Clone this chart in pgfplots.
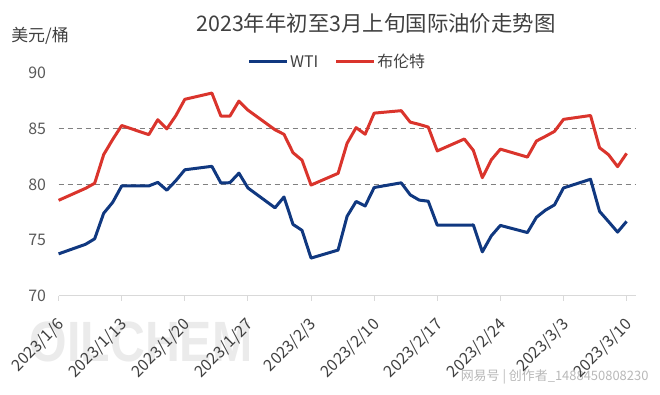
\documentclass[border=0pt]{standalone}
\usepackage{fontspec}
\setmainfont{Noto Sans CJK SC}
\newfontfamily\wmfont{Liberation Sans}
\usepackage{pgfplots}
\pgfplotsset{compat=1.18}
\definecolor{wti}{RGB}{16,56,128}
\definecolor{brent}{RGB}{218,52,44}
\definecolor{txt}{RGB}{64,64,64}
\definecolor{tick}{RGB}{89,89,89}
\definecolor{gridc}{RGB}{128,128,128}
\definecolor{axc}{RGB}{217,217,217}

\pgfplotstableread{
d v
0 73.77
3 74.63
4 75.12
5 77.41
6 78.39
7 79.86
10 79.86
11 80.18
12 79.48
13 80.33
14 81.31
17 81.62
18 80.13
19 80.15
20 81.01
21 79.68
24 77.90
25 78.87
26 76.41
27 75.88
28 73.39
31 74.11
32 77.14
33 78.47
34 78.06
35 79.72
38 80.14
39 79.06
40 78.59
41 78.49
42 76.34
45 76.34
46 76.36
47 73.95
48 75.39
49 76.32
52 75.68
53 77.05
54 77.69
55 78.16
56 79.68
59 80.46
60 77.58
61 76.66
62 75.72
63 76.68
}\wtidata

\pgfplotstableread{
d v
0 78.57
3 79.65
4 80.10
5 82.67
6 84.03
7 85.28
10 84.46
11 85.80
12 84.98
13 86.16
14 87.63
17 88.19
18 86.13
19 86.12
20 87.47
21 86.66
24 84.90
25 84.49
26 82.84
27 82.17
28 79.94
31 80.99
32 83.69
33 85.09
34 84.50
35 86.39
38 86.61
39 85.58
40 85.38
41 85.14
42 83.00
45 84.07
46 83.05
47 80.60
48 82.21
49 83.16
52 82.45
53 83.89
54 84.31
55 84.75
56 85.83
59 86.18
60 83.29
61 82.66
62 81.59
63 82.78
}\brentdata

\begin{document}
\begin{tikzpicture}[x=1bp,y=1bp]
\path[use as bounding box] (0,0) rectangle (660,394);
% watermarks
\node[font=\wmfont\bfseries\fontsize{57}{57}\selectfont, text=black!8, xscale=0.85] at (141,52) {OILCHEM};
\node[font=\fontsize{13}{13}\selectfont, text=black!28, anchor=east] at (652,17) {网易号 | 创作者\_1488450808230};
% title and unit
\node[font=\fontsize{21.5}{22}\selectfont, text=txt] at (376,371) {2023年年初至3月上旬国际油价走势图};
\node[font=\fontsize{17}{17}\selectfont, text=txt] at (40,358) {美元/桶};
\begin{axis}[
  at={(65,88)}, anchor=south west,
  scale only axis, width=577bp, height=223bp,
  xmin=0, xmax=64, ymin=70, ymax=90,
  axis x line*=bottom, axis y line*=left,
  y axis line style={draw=none},
  x axis line style={axc, line width=1bp},
  xtick={0,7,14,21,28,35,42,49,56,63},
  xticklabels={2023/1/6,2023/1/13,2023/1/20,2023/1/27,2023/2/3,2023/2/10,2023/2/17,2023/2/24,2023/3/3,2023/3/10},
  ytick={70,75,80,85,90},
  tick align=outside,
  major tick length=5bp,
  xtick style={axc, line width=1bp},
  ytick style={draw=none},
  /pgf/number format/assume math mode=true,
  yticklabel style={font=\fontsize{16}{16}\selectfont, text=tick, xshift=-4bp},
  xticklabel style={font=\fontsize{16}{16}\selectfont, text=txt, rotate=45, anchor=east, inner sep=0pt, xshift=-13bp, yshift=-17bp},
  extra y ticks={80,85},
  extra y tick labels={},
  extra y tick style={grid=major, major grid style={gridc, line width=1bp, dash pattern=on 5bp off 4bp}, tick style={draw=none}},
  legend columns=2,
  legend style={at={(0.4827,1.049)}, anchor=center, draw=none, fill=none,
    font=\fontsize{16}{16}\selectfont, text=txt, inner sep=0pt,
    /tikz/every even column/.append style={column sep=15bp},
    nodes={inner sep=1.5bp}},
  legend image code/.code={\draw[#1] (0bp,0bp) -- (38bp,0bp);},
  clip=false,
]
\addplot[wti, line width=3bp, line join=round] table[x=d, y=v] {\wtidata};
\addlegendentry{WTI}
\addplot[brent, line width=3bp, line join=round] table[x=d, y=v] {\brentdata};
\addlegendentry{布伦特}
\end{axis}
\end{tikzpicture}
\end{document}
